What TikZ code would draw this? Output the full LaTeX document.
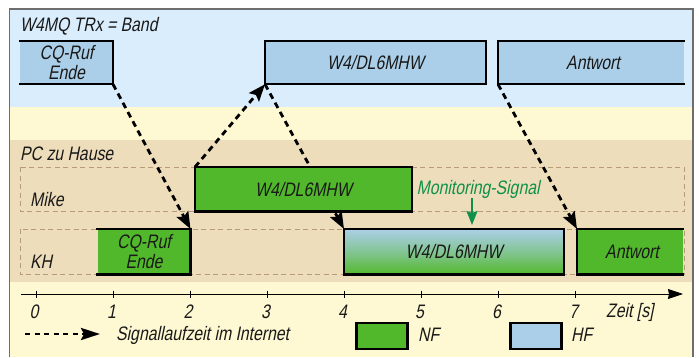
\documentclass[tikz,border=0pt]{standalone}
\usepackage{fontspec}
\setmainfont{Liberation Sans}[FakeStretch=0.81,FakeSlant=0.2]
\usetikzlibrary{arrows.meta}
\definecolor{bandblue}{HTML}{DAEDFC}
\definecolor{cream}{HTML}{FEF9D2}
\definecolor{tan}{HTML}{EEDDBB}
\definecolor{hf}{HTML}{ABCFE8}
\definecolor{nf}{HTML}{52B82B}
\definecolor{lane}{HTML}{B89A78}
\definecolor{mon}{HTML}{109048}
\definecolor{framec}{HTML}{6E6E6E}
\tikzset{
  x=1pt,y=-1pt,
  lbl/.style={font=\fontsize{19.5}{19.5}\selectfont,inner sep=0pt,text=black!90},
  blk/.style={inner sep=0pt,outer sep=0pt,align=center,font=\fontsize{19.5}{20}\selectfont,text=black!90},
  edge/.style={black,line width=2.2pt,line cap=rect},
  lanebox/.style={draw=lane,line width=0.8pt,dash pattern=on 5pt off 3.5pt},
  sig/.style={black,line width=2.8pt,dash pattern=on 6pt off 4.5pt,-{Stealth[length=17pt,width=13pt,inset=3pt]}},
  tick/.style={black,line width=0.8pt}
}
\begin{document}
\begin{tikzpicture}
\useasboundingbox (0,0) rectangle (699,357);
% background bands
\fill[cream] (9.5,9) rectangle (693,357);
\fill[bandblue] (9.5,9) rectangle (693,107);
\fill[tan] (9.5,140) rectangle (693,282);
\draw[framec,line width=1.3pt] (9.5,357) -- (9.5,9) -- (693,9) -- (693,357);
% lanes
\draw[lanebox] (20.5,167) rectangle (684,211.5);
\draw[lanebox] (20.5,229) rectangle (684,274.5);
% titles
\node[lbl,anchor=west] (t1) at (20,26) {W4MQ TRx = Band};
\node[lbl,anchor=west] (t2) at (20,153.5) {PC zu Hause};
\node[lbl,anchor=west] (t3) at (30,199.5) {Mike};
\node[lbl,anchor=west] (t4) at (30,261.5) {KH};
% HF blocks
\node[blk,fill=hf,minimum width=93pt,minimum height=43.5pt] (a1) at (66.5,62.5) {CQ-Ruf\\Ende};
\node[blk,fill=hf,minimum width=221pt,minimum height=43.5pt] (a2) at (375.5,62.5) {W4/DL6MHW};
\node[blk,fill=hf,minimum width=186pt,minimum height=43.5pt] (a3) at (591,62.5) {\hspace{4pt}Antwort};
\draw[edge] (a1.north west) -- (a1.north east) -- (a1.south east) -- (a1.south west);
\draw[edge] (a2.north west) rectangle (a2.south east);
\draw[edge] (a3.north east) -- (a3.north west) -- (a3.south west) -- (a3.south east);
% KH blocks
\node[blk,fill=nf,minimum width=93pt,minimum height=45.5pt] (k1) at (144,251.75) {CQ-Ruf\\Ende};
\draw[edge] (k1.north west) -- (k1.north east) -- (k1.south east) -- (k1.south west);
\shade[top color=hf,bottom color=nf,middle color=hf!55!nf] (344,229) rectangle (564,274.5);
\node[blk,minimum width=220pt,minimum height=45.5pt] (k2) at (454,251.75) {W4/DL6MHW};
\draw[edge] (k2.north west) rectangle (k2.south east);
\node[blk,fill=nf,minimum width=106pt,minimum height=45.5pt] (k3) at (630,251.75) {\hspace{4pt}Antwort};
\draw[edge] (k3.north east) -- (k3.north west) -- (k3.south west) -- (k3.south east);
% this arrow runs behind the Mike block
\draw[sig] (a2.south west) -- (k2.north west);
% Mike block
\node[blk,fill=nf,minimum width=217pt,minimum height=44.5pt] (m1) at (303.5,189.25) {W4/DL6MHW};
\draw[edge] (m1.north west) rectangle (m1.south east);
% signal arrows
\draw[sig] (a1.south east) -- (k1.north east);
\draw[sig] (m1.north west) -- (a2.south west);
\draw[sig] (a3.south west) -- (k3.north west);
% monitoring
\node[lbl,text=mon,anchor=west] (ms) at (416.5,189) {Monitoring-Signal};
\coordinate (mt) at (472,225);
\draw[mon,line width=2pt,-{Stealth[length=14pt,width=11pt,inset=2pt]}] (472,198) -- (mt);
% axis
\coordinate (ax0) at (21,294);
\coordinate (ax1) at (683,294);
\draw[black,line width=0.8pt,-{Stealth[length=15pt,width=10pt,inset=1pt]}] (ax0) -- (ax1);
\foreach \px/\lab/\lx in {36/0/34,113/1/111.5,190/2/188,267/3/265.5,344/4/342.5,421.5/5/419.5,498.5/6/496.5,575.5/7/573.5}{
  \draw[tick] (\px,290.5) -- (\px,297.5);
  \node[lbl] (n\lab) at (\lx,312) {\lab};
}
\node[lbl,anchor=west] (z) at (606,312) {Zeit [s]};
% legend
\coordinate (l0) at (25,334);
\coordinate (l1) at (100,334);
\draw[black,line width=2.8pt,dash pattern=on 5pt off 4.5pt,-{Stealth[length=19pt,width=12pt,inset=3pt]}] (l0) -- (l1);
\node[lbl,anchor=west] (sl) at (116,335) {Signallaufzeit im Internet};
\node[draw=black,line width=2.2pt,fill=nf,minimum width=51pt,minimum height=26pt,inner sep=0pt] (lnf) at (382,336) {};
\node[lbl,anchor=west] (tnf) at (418,335) {NF};
\node[draw=black,line width=2.2pt,fill=hf,minimum width=51pt,minimum height=26pt,inner sep=0pt] (lhf) at (536,336) {};
\node[lbl,anchor=west] (thf) at (571,335) {HF};
\end{tikzpicture}
\end{document}
